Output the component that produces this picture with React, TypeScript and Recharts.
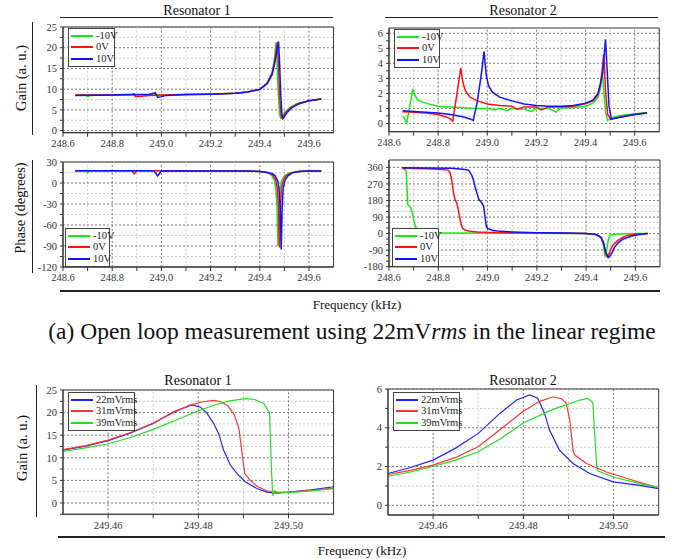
import React from "react";
import { LineChart, Line, XAxis, YAxis, ReferenceLine, ReferenceArea } from "recharts";

const FONT = "'Liberation Serif', 'Times New Roman', serif";

// ---------- (a) open loop, Resonator 1 gain ----------
const aFreqM10 = [248.65, 248.69, 248.70, 248.71, 248.80, 248.90, 249.00, 249.10, 249.20, 249.30, 249.35, 249.40, 249.43, 249.45, 249.46, 249.466, 249.470, 249.475, 249.480, 249.485, 249.490, 249.500, 249.520, 249.550, 249.600, 249.650];
const aGainM10 = [8.6, 8.6, 8.2, 8.5, 8.6, 8.6, 8.6, 8.7, 8.8, 9.0, 9.3, 10.0, 11.5, 14.0, 17.5, 21.3, 17.0, 9.0, 4.0, 3.0, 3.3, 4.3, 5.5, 6.5, 7.2, 7.6];
const aFreq0 = [248.65, 248.80, 248.88, 248.89, 248.895, 248.92, 248.95, 249.00, 249.10, 249.20, 249.30, 249.35, 249.40, 249.43, 249.45, 249.46, 249.465, 249.471, 249.475, 249.480, 249.485, 249.490, 249.495, 249.505, 249.525, 249.555, 249.600, 249.650];
const aGain0 = [8.6, 8.6, 8.8, 8.9, 8.2, 8.3, 8.5, 8.6, 8.7, 8.8, 9.0, 9.3, 10.0, 11.5, 13.8, 16.5, 18.5, 21.3, 17.0, 9.0, 4.0, 3.0, 3.3, 4.3, 5.5, 6.5, 7.2, 7.6];
const aFreq10 = [248.65, 248.80, 248.95, 248.975, 248.985, 249.00, 249.02, 249.10, 249.20, 249.30, 249.35, 249.40, 249.43, 249.45, 249.46, 249.47, 249.476, 249.480, 249.485, 249.490, 249.494, 249.500, 249.510, 249.530, 249.560, 249.600, 249.650];
const aGain10 = [8.5, 8.6, 8.8, 9.1, 8.0, 8.2, 8.5, 8.7, 8.8, 9.0, 9.3, 9.9, 11.3, 13.5, 16.0, 19.5, 21.5, 17.0, 9.0, 4.0, 2.9, 3.4, 4.3, 5.5, 6.5, 7.2, 7.6];

// ---------- (a) open loop, Resonator 2 gain ----------
const bFreqM10 = [248.655, 248.662, 248.672, 248.685, 248.697, 248.705, 248.715, 248.73, 248.76, 248.80, 248.85, 248.90, 248.95, 249.00, 249.03, 249.05, 249.08, 249.10, 249.15, 249.18, 249.20, 249.25, 249.28, 249.30, 249.35, 249.40, 249.43, 249.45, 249.46, 249.469, 249.475, 249.482, 249.490, 249.500, 249.520, 249.550, 249.600, 249.650];
const bGainM10 = [0.45, 0.35, 0.02, 1.2, 2.3, 1.9, 1.6, 1.45, 1.3, 1.15, 1.1, 1.05, 1.0, 1.0, 0.9, 1.0, 0.85, 1.0, 0.95, 0.8, 1.0, 1.0, 0.75, 1.05, 1.05, 1.15, 1.35, 1.7, 2.3, 3.4, 2.0, 0.7, 0.2, 0.3, 0.45, 0.55, 0.65, 0.72];
const bFreq0 = [248.655, 248.70, 248.75, 248.80, 248.83, 248.85, 248.859, 248.875, 248.892, 248.90, 248.91, 248.93, 248.96, 249.00, 249.05, 249.10, 249.12, 249.15, 249.20, 249.22, 249.25, 249.30, 249.35, 249.40, 249.43, 249.45, 249.46, 249.468, 249.474, 249.482, 249.490, 249.503, 249.520, 249.550, 249.600, 249.650];
const bGain0 = [0.78, 0.75, 0.7, 0.6, 0.45, 0.3, 0.15, 1.8, 3.7, 2.8, 2.2, 1.75, 1.5, 1.3, 1.2, 1.15, 0.95, 1.1, 1.1, 0.9, 1.1, 1.1, 1.15, 1.3, 1.5, 1.9, 2.6, 3.6, 4.6, 2.0, 0.6, 0.25, 0.35, 0.45, 0.6, 0.7];
const bFreq10 = [248.655, 248.70, 248.75, 248.80, 248.85, 248.90, 248.93, 248.943, 248.96, 248.975, 248.987, 248.995, 249.005, 249.02, 249.05, 249.10, 249.15, 249.20, 249.25, 249.30, 249.35, 249.40, 249.43, 249.45, 249.46, 249.47, 249.476, 249.481, 249.488, 249.495, 249.505, 249.520, 249.550, 249.600, 249.650];
const bGain10 = [0.85, 0.8, 0.75, 0.7, 0.6, 0.45, 0.3, 0.2, 1.5, 3.2, 4.8, 3.3, 2.5, 2.1, 1.75, 1.5, 1.3, 1.2, 1.15, 1.15, 1.2, 1.35, 1.55, 2.0, 2.6, 3.4, 4.6, 5.6, 3.5, 1.2, 0.3, 0.35, 0.45, 0.6, 0.7];

// ---------- (a) open loop, Resonator 1 phase ----------
const cFreqM10 = [248.65, 248.69, 248.70, 248.71, 248.80, 249.00, 249.20, 249.35, 249.40, 249.42, 249.44, 249.45, 249.46, 249.465, 249.470, 249.474, 249.478, 249.482, 249.490, 249.500, 249.520, 249.550, 249.600, 249.650];
const cPhaseM10 = [17.5, 17.5, 15, 17.5, 17.5, 17.5, 17, 17, 16.5, 15.5, 13, 10, 3, -8, -35, -90, -35, -8, 4, 10, 14.5, 16.5, 17, 17];
const cFreq0 = [248.65, 248.88, 248.89, 248.90, 249.00, 249.20, 249.35, 249.40, 249.42, 249.446, 249.456, 249.466, 249.471, 249.476, 249.480, 249.484, 249.488, 249.496, 249.506, 249.526, 249.556, 249.600, 249.650];
const cPhase0 = [17.5, 17.5, 13, 17.5, 17.5, 17, 17, 16.5, 15.5, 13, 10, 3, -8, -35, -92, -35, -8, 4, 10, 14.5, 16.5, 17, 17];
const cFreq10 = [248.65, 248.97, 248.985, 249.00, 249.20, 249.35, 249.40, 249.43, 249.453, 249.463, 249.473, 249.478, 249.483, 249.487, 249.491, 249.495, 249.503, 249.513, 249.533, 249.563, 249.600, 249.650];
const cPhase10 = [17.5, 17.5, 10, 17.5, 17, 17, 16.5, 15.5, 13, 10, 3, -8, -35, -95, -35, -8, 4, 10, 14.5, 16.5, 17, 17];

// ---------- (a) open loop, Resonator 2 phase ----------
const dFreqM10 = [248.655, 248.665, 248.670, 248.673, 248.676, 248.682, 248.688, 248.693, 248.698, 248.703, 248.710, 248.720, 248.750, 248.800, 248.900, 249.000, 249.100, 249.200, 249.300, 249.400, 249.440, 249.460, 249.470, 249.476, 249.480, 249.485, 249.490, 249.495, 249.500, 249.520, 249.550, 249.600, 249.650];
const dPhaseM10 = [352, 348, 340, 250, 160, 150, 140, 120, 90, 60, 30, 12, 6, 4, 3, 3, 2, 2, 1, 0, -5, -20, -60, -120, -125, -80, -35, -15, -8, -3, -1, 0, 0];
const dFreq0 = [248.655, 248.750, 248.800, 248.840, 248.848, 248.855, 248.862, 248.868, 248.874, 248.880, 248.885, 248.890, 248.895, 248.900, 248.910, 248.930, 248.960, 249.000, 249.100, 249.200, 249.300, 249.400, 249.440, 249.460, 249.470, 249.480, 249.487, 249.495, 249.500, 249.510, 249.527, 249.550, 249.567, 249.600, 249.650];
const dPhase0 = [355, 352, 350, 345, 330, 290, 220, 185, 170, 140, 100, 65, 40, 28, 18, 12, 9, 7, 5, 4, 3, 1, -5, -20, -50, -110, -128, -105, -85, -60, -40, -20, -10, -4, 0];
const dFreq10 = [248.655, 248.750, 248.850, 248.900, 248.923, 248.935, 248.943, 248.950, 248.957, 248.965, 248.975, 248.984, 248.990, 248.995, 249.000, 249.020, 249.050, 249.100, 249.200, 249.300, 249.400, 249.440, 249.460, 249.470, 249.480, 249.491, 249.497, 249.505, 249.515, 249.530, 249.550, 249.582, 249.610, 249.650];
const dPhase10 = [358, 357, 355, 350, 345, 320, 290, 250, 220, 185, 170, 150, 90, 40, 28, 18, 12, 9, 5, 3, 1, -5, -20, -45, -100, -130, -122, -105, -75, -50, -30, -15, -6, 0];

// ---------- (b) drive levels, Resonator 1 gain ----------
const eFreq22 = [249.450, 249.455, 249.460, 249.465, 249.470, 249.4745, 249.4786, 249.4805, 249.4819, 249.4834, 249.4845, 249.4856, 249.4871, 249.4886, 249.4904, 249.4930, 249.4952, 249.4974, 249.500, 249.505, 249.510];
const eGain22 = [11.7, 12.6, 13.8, 15.5, 17.6, 20.2, 21.7, 21.2, 19.9, 17.6, 15.4, 11.7, 8.4, 6.5, 4.7, 3.2, 2.4, 2.2, 2.4, 2.9, 3.6];
const eFreq31 = [249.450, 249.455, 249.460, 249.465, 249.470, 249.4745, 249.478, 249.481, 249.4834, 249.485, 249.4865, 249.4880, 249.4890, 249.4897, 249.4903, 249.4915, 249.4930, 249.4952, 249.4974, 249.500, 249.505, 249.510];
const eGain31 = [11.8, 12.7, 13.9, 15.6, 17.7, 20.0, 21.6, 22.4, 22.7, 22.4, 21.5, 19.5, 16.5, 11.0, 6.5, 5.0, 3.7, 2.7, 2.3, 2.4, 2.8, 3.3];
const eFreq39 = [249.450, 249.455, 249.460, 249.465, 249.470, 249.475, 249.480, 249.484, 249.487, 249.4904, 249.4925, 249.4945, 249.4958, 249.4962, 249.4965, 249.4969, 249.4975, 249.500, 249.505, 249.510];
const eGain39 = [11.4, 12.2, 13.1, 14.5, 16.3, 18.3, 20.4, 21.8, 22.6, 23.1, 22.9, 22.0, 20.0, 8.0, 1.6, 2.7, 2.4, 2.3, 2.7, 3.2];

// ---------- (b) drive levels, Resonator 2 gain ----------
const fFreq22 = [249.450, 249.455, 249.460, 249.465, 249.470, 249.4748, 249.4785, 249.4814, 249.4832, 249.4847, 249.4858, 249.4880, 249.4910, 249.4947, 249.4999, 249.5058, 249.510];
const fGain22 = [1.64, 1.95, 2.33, 2.95, 3.71, 4.74, 5.43, 5.69, 5.52, 4.74, 3.88, 2.85, 2.16, 1.64, 1.21, 1.03, 0.86];
const fFreq31 = [249.450, 249.455, 249.460, 249.465, 249.470, 249.4748, 249.480, 249.4835, 249.4866, 249.4885, 249.4895, 249.4903, 249.4910, 249.4914, 249.4940, 249.4984, 249.5043, 249.510];
const fGain31 = [1.59, 1.80, 2.07, 2.47, 3.02, 3.9, 4.85, 5.35, 5.6, 5.5, 5.26, 4.4, 2.85, 2.59, 2.16, 1.72, 1.29, 0.9];
const fFreq39 = [249.450, 249.455, 249.460, 249.465, 249.470, 249.475, 249.480, 249.4866, 249.4925, 249.4943, 249.4954, 249.4960, 249.4963, 249.4966, 249.4999, 249.5058, 249.510];
const fGain39 = [1.5, 1.72, 2.0, 2.33, 2.76, 3.45, 4.25, 4.95, 5.43, 5.52, 5.3, 3.0, 1.9, 1.77, 1.46, 1.12, 0.92];

// ---------- ticks ----------
const wideFreqTicks = [248.6, 248.8, 249.0, 249.2, 249.4, 249.6];
const wideFreqMinor = [248.7, 248.9, 249.1, 249.3, 249.5];
const zoomFreqTicks = [249.46, 249.48, 249.50];
const zoomFreqMinor = [249.47, 249.49];
const gainR1Ticks = [0, 5, 10, 15, 20, 25];
const gainR1Minor = [2.5, 7.5, 12.5, 17.5, 22.5];
const gainR2Ticks = [0, 1, 2, 3, 4, 5, 6];
const gainR2Minor = [0.5, 1.5, 2.5, 3.5, 4.5, 5.5];
const phaseR1Ticks = [-120, -90, -60, -30, 0, 30];
const phaseR1Minor = [-105, -75, -45, -15, 15];
const phaseR2Ticks = [-180, -90, 0, 90, 180, 270, 360];
const phaseR2Minor = [-150, -120, -60, -30, 30, 60, 120, 150, 210, 240, 300, 330];
const gainR1ZoomMinor = [-2.5, 2.5, 7.5, 12.5, 17.5, 22.5];
const gainR2ZoomTicks = [0, 2, 4, 6];
const gainR2ZoomMinor = [1, 3, 5];

const biasNames = ["-10V", "0V", "10V"];
const driveNames = ["22mVrms", "31mVrms", "39mVrms"];

type Series = { name: string; color: string; freq: number[]; vals: number[] };

const zip = (freq: number[], vals: number[]) => freq.map((f, i) => ({ f, v: vals[i] }));
const near = (list: number[], v: number) => list.some((t) => Math.abs(t - v) < 1e-6);

type PanelProps = {
  left: number; top: number; width: number; height: number;
  xDomain: [number, number]; yDomain: [number, number];
  xMajor: number[]; xMinor: number[]; yMajor: number[]; yMinor: number[];
  xDigits: number; series: Series[]; lineWidth: number;
};

function Panel(p: PanelProps) {
  const padL = 45, padT = 5, padR = 5, padB = 30;
  const tickStyle = { fontSize: 10.5, fontFamily: FONT, fill: "#333" };
  const xt = [...p.xMajor, ...p.xMinor].sort((a, b) => a - b);
  const yt = [...p.yMajor, ...p.yMinor].sort((a, b) => a - b);
  return (
    <div style={{ position: "absolute", left: p.left - padL, top: p.top - padT }}>
      <LineChart width={p.width + padL + padR} height={p.height + padT + padB} margin={{ top: padT, right: padR, bottom: 0, left: 0 }}>
        {p.xMinor.map((v) => <ReferenceLine key={"xm" + v} x={v} stroke="#c9c9c9" strokeDasharray="2 2" />)}
        {p.yMinor.map((v) => <ReferenceLine key={"ym" + v} y={v} stroke="#c9c9c9" strokeDasharray="2 2" />)}
        {p.xMajor.map((v) => <ReferenceLine key={"xM" + v} x={v} stroke="#777" strokeDasharray="2 2" />)}
        {p.yMajor.map((v) => <ReferenceLine key={"yM" + v} y={v} stroke="#777" strokeDasharray="2 2" />)}
        <XAxis
          type="number" dataKey="f" domain={p.xDomain} allowDataOverflow ticks={xt} interval={0}
          height={padB} tickSize={4} tickMargin={3} stroke="#333" tick={tickStyle}
          tickFormatter={(v: number) => (near(p.xMajor, v) ? v.toFixed(p.xDigits) : "")}
        />
        <YAxis
          type="number" domain={p.yDomain} allowDataOverflow ticks={yt} interval={0}
          width={padL} tickSize={3} tickMargin={3} stroke="#333" tick={tickStyle}
          tickFormatter={(v: number) => (near(p.yMajor, v) ? String(v) : "")}
        />
        <ReferenceArea x1={p.xDomain[0]} x2={p.xDomain[1]} y1={p.yDomain[0]} y2={p.yDomain[1]} fill="none" stroke="#333" fillOpacity={0} />
        {p.series.map((s) => (
          <Line key={s.name} data={zip(s.freq, s.vals)} dataKey="v" type="linear" stroke={s.color}
            strokeWidth={p.lineWidth} dot={false} isAnimationActive={false} />
        ))}
      </LineChart>
    </div>
  );
}

function LegendBox({ left, top, width, items }: { left: number; top: number; width: number; items: Series[] }) {
  return (
    <div style={{ position: "absolute", left, top, width, border: "1.5px solid #444", background: "#fff", padding: "1px 2px", boxSizing: "border-box" }}>
      {items.map((it) => (
        <div key={it.name} style={{ display: "flex", alignItems: "center", height: 11.5 }}>
          <div style={{ width: 22, height: 1.6, background: it.color, marginRight: 3, flex: "none" }} />
          <div style={{ fontSize: 10.5, fontFamily: FONT, color: "#222", whiteSpace: "nowrap", lineHeight: 1 }}>{it.name}</div>
        </div>
      ))}
    </div>
  );
}

const Text = ({ x, y, size, children, rotate }: { x: number; y: number; size: number; children: React.ReactNode; rotate?: boolean }) => (
  <div style={{ position: "absolute", left: x, top: y, transform: `translate(-50%,-50%)${rotate ? " rotate(-90deg)" : ""}`, fontFamily: FONT, fontSize: size, color: "#111", whiteSpace: "nowrap", lineHeight: 1 }}>
    {children}
  </div>
);

const Rule = ({ x, y, w, h }: { x: number; y: number; w: number; h: number }) => (
  <div style={{ position: "absolute", left: x, top: y, width: w, height: h, background: "#222" }} />
);

export default function App() {
  const G = "#11ee11", R = "#ff1111", B = "#1111ff";
  const G2 = "#22dd22", R2 = "#ff3333", B2 = "#2222ff";
  const aSeries: Series[] = [
    { name: biasNames[0], color: G, freq: aFreqM10, vals: aGainM10 },
    { name: biasNames[1], color: R, freq: aFreq0, vals: aGain0 },
    { name: biasNames[2], color: B, freq: aFreq10, vals: aGain10 },
  ];
  const bSeries: Series[] = [
    { name: biasNames[0], color: G, freq: bFreqM10, vals: bGainM10 },
    { name: biasNames[1], color: R, freq: bFreq0, vals: bGain0 },
    { name: biasNames[2], color: B, freq: bFreq10, vals: bGain10 },
  ];
  const cSeries: Series[] = [
    { name: biasNames[0], color: G, freq: cFreqM10, vals: cPhaseM10 },
    { name: biasNames[1], color: R, freq: cFreq0, vals: cPhase0 },
    { name: biasNames[2], color: B, freq: cFreq10, vals: cPhase10 },
  ];
  const dSeries: Series[] = [
    { name: biasNames[0], color: G, freq: dFreqM10, vals: dPhaseM10 },
    { name: biasNames[1], color: R, freq: dFreq0, vals: dPhase0 },
    { name: biasNames[2], color: B, freq: dFreq10, vals: dPhase10 },
  ];
  const eSeries: Series[] = [
    { name: driveNames[0], color: B2, freq: eFreq22, vals: eGain22 },
    { name: driveNames[1], color: R2, freq: eFreq31, vals: eGain31 },
    { name: driveNames[2], color: G2, freq: eFreq39, vals: eGain39 },
  ];
  const fSeries: Series[] = [
    { name: driveNames[0], color: B2, freq: fFreq22, vals: fGain22 },
    { name: driveNames[1], color: R2, freq: fFreq31, vals: fGain31 },
    { name: driveNames[2], color: G2, freq: fFreq39, vals: fGain39 },
  ];

  return (
    <div style={{ position: "absolute", left: 0, top: 0, width: 681, height: 559, background: "#fff", overflow: "hidden" }}>
      <Text x={197} y={11} size={14}>Resonator 1</Text>
      <Text x={523} y={11} size={14}>Resonator 2</Text>
      <Rule x={60} y={16.5} w={273} h={1.5} />
      <Rule x={385} y={16.5} w={273} h={1.5} />
      <Text x={21} y={78} size={14.5} rotate>Gain (a. u.)</Text>
      <Rule x={31.5} y={22} w={1.5} h={113} />
      <Text x={20} y={208} size={14.5} rotate>Phase (degrees)</Text>
      <Rule x={31.5} y={160} w={1.5} h={113} />

      <Panel left={62.7} top={27} width={270.6} height={105.7} xDomain={[248.6, 249.7]} yDomain={[-0.5, 25]}
        xMajor={wideFreqTicks} xMinor={wideFreqMinor} yMajor={gainR1Ticks} yMinor={gainR1Minor} xDigits={1} series={aSeries} lineWidth={1.5} />
      <Panel left={389} top={28} width={270.3} height={103.7} xDomain={[248.6, 249.7]} yDomain={[-0.55, 6.35]}
        xMajor={wideFreqTicks} xMinor={wideFreqMinor} yMajor={gainR2Ticks} yMinor={gainR2Minor} xDigits={1} series={bSeries} lineWidth={1.5} />
      <Panel left={62.7} top={161.7} width={270.6} height={105} xDomain={[248.6, 249.7]} yDomain={[-120, 30]}
        xMajor={wideFreqTicks} xMinor={wideFreqMinor} yMajor={phaseR1Ticks} yMinor={phaseR1Minor} xDigits={1} series={cSeries} lineWidth={1.5} />
      <Panel left={389} top={160} width={271} height={106.7} xDomain={[248.6, 249.7]} yDomain={[-180, 400]}
        xMajor={wideFreqTicks} xMinor={wideFreqMinor} yMajor={phaseR2Ticks} yMinor={phaseR2Minor} xDigits={1} series={dSeries} lineWidth={1.5} />

      <LegendBox left={68} top={28} width={47} items={aSeries} />
      <LegendBox left={394} top={29} width={46} items={bSeries} />
      <LegendBox left={65} top={228} width={45} items={cSeries} />
      <LegendBox left={392} top={228} width={47} items={dSeries} />

      <Rule x={60} y={290} w={600} h={1.5} />
      <Text x={357} y={304} size={13}>Frequency (kHz)</Text>

      <Text x={352} y={332} size={23.5}>
        (a) Open loop measurement using 22mV<i>rms</i> in the linear regime
      </Text>

      <Text x={198} y={381} size={14}>Resonator 1</Text>
      <Text x={523} y={381} size={14}>Resonator 2</Text>
      <Text x={22} y={448} size={14.5} rotate>Gain (a. u.)</Text>
      <Rule x={35.5} y={385} w={1.5} h={132} />

      <Panel left={62.7} top={390} width={270.6} height={124.3} xDomain={[249.45, 249.51]} yDomain={[-2.5, 25]}
        xMajor={zoomFreqTicks} xMinor={zoomFreqMinor} yMajor={gainR1Ticks} yMinor={gainR1ZoomMinor} xDigits={2} series={eSeries} lineWidth={1.2} />
      <Panel left={388.3} top={389} width={270.7} height={126} xDomain={[249.45, 249.51]} yDomain={[-0.5, 6]}
        xMajor={zoomFreqTicks} xMinor={zoomFreqMinor} yMajor={gainR2ZoomTicks} yMinor={gainR2ZoomMinor} xDigits={2} series={fSeries} lineWidth={1.2} />

      <LegendBox left={68} top={392} width={67} items={eSeries} />
      <LegendBox left={393} top={392} width={67} items={fSeries} />

      <Rule x={58} y={536} w={607} h={1.5} />
      <Text x={362} y={550} size={13}>Frequency (kHz)</Text>
    </div>
  );
}
